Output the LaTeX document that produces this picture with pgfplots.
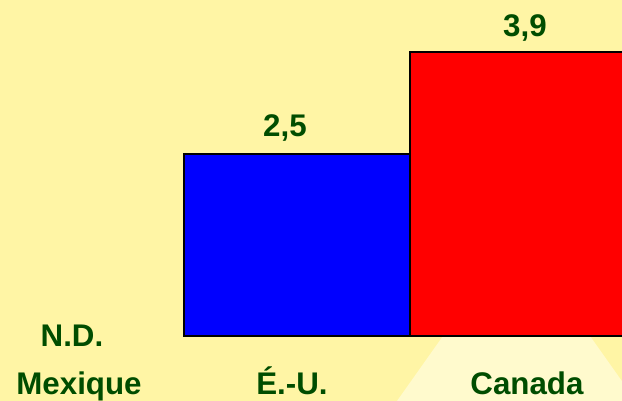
\documentclass[border=0pt]{standalone}
\usepackage{pgfplots}
\pgfplotsset{compat=1.18}
\usepackage{fontspec}
\setmainfont{Liberation Sans}
\definecolor{bgyellow}{RGB}{255,245,165}
\definecolor{beam}{RGB}{255,250,205}
\definecolor{txtgreen}{RGB}{0,77,0}
\definecolor{barblue}{RGB}{0,0,255}
\definecolor{barred}{RGB}{255,0,0}
\begin{document}
\begin{tikzpicture}
\begin{axis}[
  width=622pt, height=401pt, scale only axis,
  xmin=0, xmax=622, ymin=-0.893, ymax=4.615,
  hide axis,
  clip=true,
]
\addplot[fill=bgyellow, draw=none] coordinates {(0,-0.893) (622,-0.893) (622,4.615) (0,4.615)} -- cycle;
\addplot[fill=beam, draw=none] coordinates {(443,0) (590,0) (636,-0.893) (397,-0.893)} -- cycle;
\addplot[ybar, bar width=226, fill=barblue, draw=black, line width=2pt] coordinates {(297,2.5)};
\addplot[ybar, bar width=226, fill=barred, draw=black, line width=2pt] coordinates {(523,3.9)};
\begin{scope}[every node/.style={font=\fontsize{31.3}{37}\selectfont\bfseries, text=txtgreen, anchor=base, inner sep=0pt}]
\node at (axis cs:285,2.734) {2,5};
\node at (axis cs:525,4.107) {3,9};
\node at (axis cs:72,-0.151) {N.D.};
\node at (axis cs:79,-0.797) {Mexique};
\node at (axis cs:292,-0.797) {É.-U.};
\node at (axis cs:527,-0.797) {Canada};
\end{scope}
\end{axis}
\pgfresetboundingbox
\useasboundingbox (current axis.south west) rectangle (current axis.north east);
\end{tikzpicture}
\end{document}
